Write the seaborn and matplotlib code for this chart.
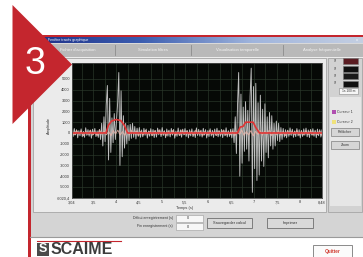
import numpy as np
import pandas as pd
import matplotlib
matplotlib.use("Agg")
import matplotlib.pyplot as plt
import seaborn as sns
from matplotlib.patches import Rectangle, Polygon
from matplotlib.colors import LinearSegmentedColormap

# ---- data ----
T_START, T_END = 3.04, 8.48

raw_signal = [
    250, -320, 410, -180, 300, -450, 220, -260, 380, -350,
    150, -400, 480, -220, 310, -300, 260, -480, 350, -150,
    420, -330, 200, -410, 330,
    -600, 900, -1200, 1500, -800, 2600, 4400, -2500, 3200, -1800,
    1400, -900, 1800, -600, 1200, 2800, 5600, -3000, 3900, -2200,
    1600, -1400, 900, -1000, 700,
    -700, 800, -500, 900, -400, 600, -550, 450, -300, 500, -400,
    280, -350, 430, -210, 360, -470, 190, -300, 400, -260,
    320, -420, 240, -380, 450, -170, 300, -340, 500, -230,
    210, -440, 370, -290, 260, -360, 420, -200, 330, -480,
    180, -310, 460, -250, 290, -390, 350, -180, 410, -320,
    230, -450, 300, -270, 380, -340, 200, -420, 470, -240,
    340, -300, 260, -380, 430, -190, 310, -460, 220, -330,
    390, -280, 250, -410, 360, -220, 440, -350, 200, -300,
    330, -430, 270, -260, 480, -370, 210, -320, 350, -450,
    400, -900, 1500, -1900, 2600, 5600, -4000, 3600, -2800, 2400,
    -1700, 2900, -1500, 2100, -2600, 3400, 6000, -5500, 4300, -3300,
    4600, -4400, 2800, -3900, 3500, -2600, 2200, -3100, 2700, -1800,
    1500, -2300, 1900, -1200, 1600, -1500, 900, -1200, 1100, -700,
    900, -800, 500, -600,
    420, -380, 300, -450, 260, -310, 470, -230, 350, -400,
    190, -340, 410, -270, 300, -460, 240, -320, 380, -210,
    450, -350, 280, -420, 330, -190, 400, -300, 250, -440,
    360, -260, 310, -380, 290,
]

second_channel = [
    120, -180, 240, -90, 200, -260, 150, -140, 260, -200,
    100, -230, 280, -120, 190, -170, 140, -250, 220, -80,
    260, -190, 130, -220, 210, -150, 230, -110, 180, -270,
    160, -200, 250, -130, 170, -240, 200, -100, 270, -180,
    120, -260, 190, -150, 240, -210, 110, -230, 280, -140,
    200, -170, 150, -220, 260, -90, 180, -250, 130, -190,
    230, -160, 140, -240, 210, -120, 270, -200, 100, -170,
    190, -250, 160, -140, 280, -210, 120, -180, 220, -260,
    150, -130, 240, -200, 180, -110, 260, -230, 140, -170,
    210, -190, 130, -250, 230, -150, 170, -120, 250, -220,
    160, -180, 200, -140, 240, -200, 120, -160, 190, -230,
]

envelope_t = [3.04, 3.78, 3.83, 3.90, 4.00, 4.10, 4.18, 4.25,
              6.58, 6.64, 6.70, 6.76, 6.82, 6.98, 7.04, 7.12, 8.48]
envelope_v = [0, 0, 700, 1100, 1250, 1150, 700, 0,
              0, 0, 550, 600, 1000, 1000, 500, 0, 0]

x_ticks = [3.04, 3.5, 4, 4.5, 5, 5.5, 6, 6.5, 7, 7.5, 8, 8.48]
x_labels = ["3,04", "3,5", "4", "4,5", "5", "5,5", "6", "6,5", "7", "7,5", "8", "8,48"]
y_ticks = [-6020, -5000, -4000, -3000, -2000, -1000, 0, 1000, 2000, 3000, 4000, 5000]
y_labels = ["-6020,4", "-5000", "-4000", "-3000", "-2000", "-1000", "0",
            "1000", "2000", "3000", "4000", "5000"]
Y_MIN, Y_MAX = -6020, 6480

tabs = ["Fichier d'acquisition", "Simulation filtres",
        "Visualisation temporelle", "Analyse fréquentielle"]

RED = "#c4262e"
W, H = 363, 257

plt.rcParams["font.family"] = ["Liberation Sans", "DejaVu Sans"]
fig = plt.figure(figsize=(W / 100, H / 100), dpi=100)
fig.patch.set_facecolor("white")

bg = fig.add_axes([0, 0, 1, 1])
bg.set_xlim(0, W)
bg.set_ylim(H, 0)
bg.axis("off")


def rect(ax, x0, y0, x1, y1, fc, ec="none", lw=0.0, z=1):
    ax.add_patch(Rectangle((x0, y0), x1 - x0, y1 - y0, facecolor=fc,
                           edgecolor=ec, linewidth=lw, zorder=z))


def label(ax, x, y, s, size=2.8, color="#333333", ha="center", **kw):
    ax.text(x, y, s, fontsize=size, color=color, ha=ha, va="center", **kw)


# window frame
rect(bg, 30, 37, W, 237, "#d4d4d4")
rect(bg, 30, 34.5, W, 37, RED, z=3)
rect(bg, 27.5, 40, 30.5, H, RED, z=3)

# title bar gradient
title_cmap = LinearSegmentedColormap.from_list("tb", ["#1d2f86", "#3b5db0", "#9fb4dc", "#c4cfe2"])
bg.imshow(np.linspace(0, 1, 200)[None, :], extent=(30, W, 43, 37), cmap=title_cmap,
          aspect="auto", zorder=2)
label(bg, 48, 40, "Fenêtre tracés graphique", size=2.6, color="white", ha="left", zorder=4)
label(bg, 357, 40, "x", size=3, color="white", zorder=4)

# tabs
rect(bg, 30, 43, W, 56.5, "#b9b9b9", z=2)
rect(bg, 30, 43, W, 44, "#d9d9d9", z=2)
for sx in [115, 191, 283]:
    bg.plot([sx, sx], [45, 55], color="#8c8c8c", lw=0.6, zorder=3)
for tx, t in zip([78, 153, 238, 322], tabs):
    label(bg, tx, 50, t, size=3.0, color="#f4f4f4", zorder=3)
rect(bg, 30, 56.5, W, 58, "#ececec", z=2)

# plot panel + right panel
rect(bg, 33, 58, 326, 212, "#ebebeb", ec="#a5a5a5", lw=0.6, z=2)
rect(bg, 328, 58, 362, 212, "#d2d2d2", ec="#a5a5a5", lw=0.6, z=2)
label(bg, 49, 126, "Amplitude", size=2.8, rotation=90, zorder=3)
label(bg, 185, 208, "Temps (s)", size=2.8, zorder=3)

# right panel controls
for yy, c in zip([61, 68.5, 76, 83.5], ["#5a1c22", "#101010", "#1a1a1a", "#101010"]):
    label(bg, 336, yy, "0°", size=2.4, color="#444444", zorder=3)
    rect(bg, 343, yy - 3, 358, yy + 3, c, ec="#777777", lw=0.4, z=3)
rect(bg, 339, 88, 358, 93.5, "#f6f6f6", ec="#888888", lw=0.4, z=3)
label(bg, 348.5, 90.8, "1s 100 m", size=2.3, zorder=4)
rect(bg, 330, 97, 361, 206, "#e6e6e6", z=3)
rect(bg, 331.5, 110, 335.5, 114, "#b04fb0", z=4)
label(bg, 337, 112, "Curseur 1", size=2.5, ha="left", zorder=4)
rect(bg, 331.5, 120, 335.5, 124, "#f0e27a", z=4)
label(bg, 337, 122, "Curseur 2", size=2.5, ha="left", zorder=4)
for by, bt in [(128, "Relâcher"), (141, "Zoom")]:
    rect(bg, 331, by, 359, by + 8, "#d6d6d6", ec="#7f7f7f", lw=0.5, z=4)
    label(bg, 345, by + 4, bt, size=2.5, zorder=5)

# bottom controls
label(bg, 173, 218, "Début enregistrement (s)", size=2.6, ha="right", zorder=3)
label(bg, 173, 226.5, "Fin enregistrement (s)", size=2.6, ha="right", zorder=3)
for fy in [214.5, 223]:
    rect(bg, 176, fy, 203, fy + 7, "#f7f7f7", ec="#9a9a9a", lw=0.4, z=3)
    label(bg, 188, fy + 3.5, "0", size=2.8, zorder=4)
for bx0, bx1, bt in [(207, 252, "Sauvegarder calcul"), (267, 313, "Imprimer")]:
    rect(bg, bx0, 218, bx1, 228, "#d9d9d9", ec="#6f6f6f", lw=0.6, z=3)
    label(bg, (bx0 + bx1) / 2, 223, bt, size=2.8, zorder=4)
bg.plot([30, W], [236.5, 236.5], color="#9a9a9a", lw=0.8, zorder=3)

# logo + quit button
bg.plot([37, 121], [241, 241], color=RED, lw=0.8, zorder=3)
rect(bg, 37, 243, 49, 256, "#4a4a4a", z=3)
label(bg, 43, 249.5, "S", size=9, color="white", weight="bold", zorder=4)
label(bg, 51, 249.5, "SCAIME", size=11.5, color="#3c3c3c", ha="left", weight="bold", zorder=4)
rect(bg, 313, 245, 352, 260, "#fbfbfb", ec="#8a8a8a", lw=0.7, z=3)
label(bg, 332.5, 251.5, "Quitter", size=3.4, color="#d03a30", weight="bold", zorder=4)

# ---- the scope plot ----
ax = fig.add_axes([72 / W, 1 - 198 / H, 250 / W, 135 / H], zorder=5)
ax.set_facecolor("#060906")

raw_df = pd.DataFrame({"t": np.linspace(T_START, T_END, len(raw_signal)), "v": raw_signal})
ch2_df = pd.DataFrame({"t": np.linspace(T_START, T_END, len(second_channel)), "v": second_channel})
env_df = pd.DataFrame({"t": envelope_t, "v": envelope_v})

sns.lineplot(data=raw_df, x="t", y="v", ax=ax, estimator=None, color="#d4d4d4",
             linewidth=0.65, alpha=0.9)
sns.lineplot(data=ch2_df, x="t", y="v", ax=ax, estimator=None, color="#eab3a8",
             linewidth=0.7, alpha=0.85)
sns.lineplot(data=env_df, x="t", y="v", ax=ax, estimator=None, color="#e03434",
             linewidth=1.2)

ax.set_xlim(T_START, T_END)
ax.set_ylim(Y_MIN, Y_MAX)
ax.set_xticks(x_ticks)
ax.set_xticklabels(x_labels)
ax.set_yticks(y_ticks)
ax.set_yticklabels(y_labels)
ax.set_xticks(np.arange(3.25, 8.5, 0.5), minor=True)
ax.tick_params(axis="both", which="both", length=0, labelsize=2.8, colors="#333333", pad=1.5)
ax.grid(True, which="both", color="#2c3a2c", linewidth=0.45)
ax.set_axisbelow(True)
ax.set_xlabel("")
ax.set_ylabel("")
for sp in ax.spines.values():
    sp.set_color("#4a4a4a")
    sp.set_linewidth(0.6)

# ---- step badge on top ----
top = fig.add_axes([0, 0, 1, 1], zorder=20)
top.set_xlim(0, W)
top.set_ylim(H, 0)
top.axis("off")
top.add_patch(Polygon([(12.5, 5), (72, 64.5), (12.5, 124)], closed=True,
                      facecolor=RED, edgecolor="none"))
top.text(35, 64, "3", fontsize=27, color="white", ha="center", va="center")

fig.savefig("out.png", dpi=100)
